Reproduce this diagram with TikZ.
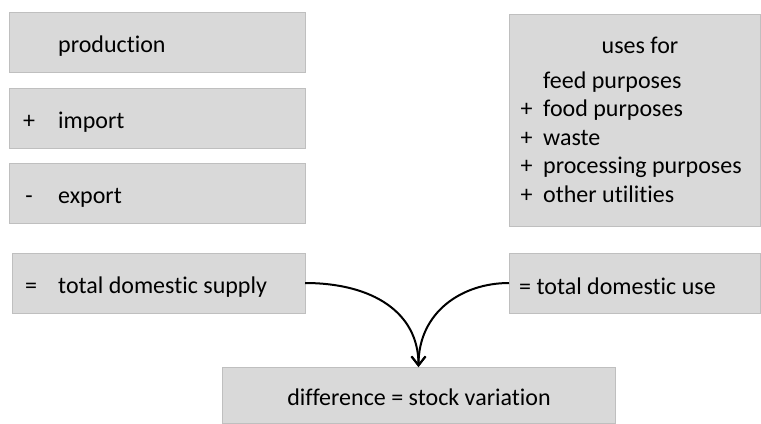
\documentclass[tikz,border=0pt]{standalone}
\usepackage{fontspec}
\setmainfont[Ligatures={NoCommon}]{Carlito}
\usetikzlibrary{arrows.meta}
\definecolor{boxfill}{HTML}{D9D9D9}
\definecolor{boxline}{HTML}{BFBFBF}
\begin{document}
\begin{tikzpicture}[x=1bp,y=-1bp,
  box/.style={draw=boxline, line width=0.8bp, fill=boxfill, inner sep=0pt, outer sep=0pt},
  txt/.style={anchor=base west, inner sep=0pt, font=\fontsize{24bp}{28bp}\selectfont},
  sym/.style={anchor=base, inner sep=0pt, font=\fontsize{24bp}{28bp}\selectfont},
  conn/.style={line width=2bp, -{Straight Barb[length=9bp,width=14bp,line width=2bp]}}]
\useasboundingbox (0,0) rectangle (761,423);
% boxes
\node[box, minimum width=296bp, minimum height=60bp] (prod) at (157,42) {};
\node[box, minimum width=296bp, minimum height=60bp] (imp) at (157,118) {};
\node[box, minimum width=296bp, minimum height=60bp] (exp) at (157,193) {};
\node[box, minimum width=251bp, minimum height=212bp] (uses) at (634.5,120) {};
\node[box, minimum width=293bp, minimum height=60bp] (supply) at (158.5,283) {};
\node[box, minimum width=251bp, minimum height=60bp] (use) at (634.5,283) {};
\node[box, minimum width=393bp, minimum height=56bp] (diff) at (418.5,395) {};
% left texts
\node[txt] (tprod) at (58,52) {production};
\node[sym] (pimp) at (29,128) {+};
\node[txt] (timp) at (58,128) {import};
\node[sym] (mexp) at (29,203) {-};
\node[txt] (texp) at (58,203) {export};
\node[sym] (esup) at (31,293) {=};
\node[txt] (tsup) at (58,293) {total domestic supply};
% right texts
\node[sym] (tuses) at (640,53) {uses for};
\node[txt] (tfeed) at (543,88) {feed purposes};
\node[sym] (p1) at (526.5,116.5) {+};
\node[txt] (tfood) at (543,116.5) {food purposes};
\node[sym] (p2) at (526.5,145) {+};
\node[txt] (twaste) at (543,145) {waste};
\node[sym] (p3) at (526.5,173.5) {+};
\node[txt] (tproc) at (543,173.5) {processing purposes};
\node[sym] (p4) at (526.5,202) {+};
\node[txt] (tother) at (543,202) {other utilities};
\node[txt] (tuse) at (519,294) {= total domestic use};
\node[sym] (tdiff) at (419,405) {difference = stock variation};
% connectors
\draw[conn] (supply.east) .. controls (372,283) and (418.5,312) .. (diff.north);
\draw[conn] (use.west) .. controls (462,283) and (418.5,312) .. (diff.north);
\end{tikzpicture}
\end{document}
